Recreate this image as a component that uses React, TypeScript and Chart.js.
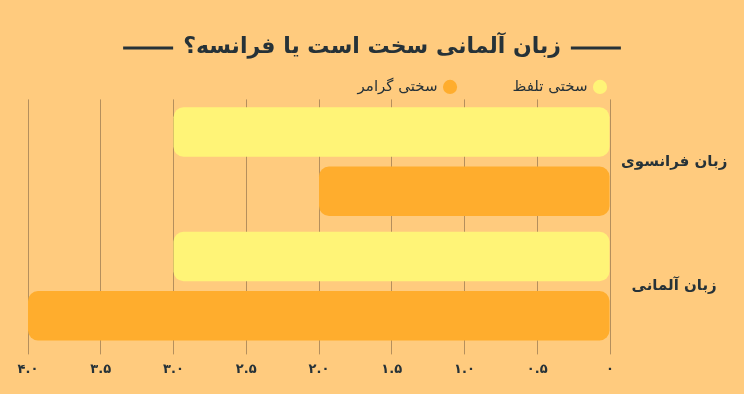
import React, { useEffect, useRef } from "react";
import { Chart, registerables } from "chart.js";

Chart.register(...registerables);

const titleText = "زبان آلمانی سخت است یا فرانسه؟";
const categories = ["زبان فرانسوی", "زبان آلمانی"];
const seriesNames = ["سختی تلفظ", "سختی گرامر"];
const pronunciation = [3.0, 3.0];
const grammar = [2.0, 4.0];
const tickLabels = ["۰", "۰.۵", "۱.۰", "۱.۵", "۲.۰", "۲.۵", "۳.۰", "۳.۵", "۴.۰"];

const BG = "#FFCB7E";
const YELLOW = "#FFF477";
const ORANGE = "#FFAD2D";
const DARK = "#263238";
const FONT = "'DejaVu Sans', sans-serif";

const titleLines = {
  id: "titleLines",
  afterDraw(chart: any) {
    const tb = chart.titleBlock;
    if (!tb) return;
    const ctx = chart.ctx;
    ctx.save();
    ctx.font = `bold 22px ${FONT}`;
    const tw = ctx.measureText(titleText).width;
    const cx = (tb.left + tb.right) / 2;
    const y = tb.top + 34 + 13 + 1;
    const gap = 10;
    const len = 50;
    ctx.strokeStyle = DARK;
    ctx.lineWidth = 3;
    ctx.beginPath();
    ctx.moveTo(cx - tw / 2 - gap - len, y);
    ctx.lineTo(cx - tw / 2 - gap, y);
    ctx.moveTo(cx + tw / 2 + gap, y);
    ctx.lineTo(cx + tw / 2 + gap + len, y);
    ctx.stroke();
    ctx.restore();
  },
};

export default function App() {
  const ref = useRef<HTMLCanvasElement>(null);
  useEffect(() => {
    document.body.style.margin = "0";
    document.body.style.background = BG;
    const chart = new Chart(ref.current!, {
      type: "bar",
      data: {
        labels: categories,
        datasets: [
          {
            label: seriesNames[0],
            data: pronunciation,
            backgroundColor: YELLOW,
            borderRadius: 10,
            borderSkipped: false,
          },
          {
            label: seriesNames[1],
            data: grammar,
            backgroundColor: ORANGE,
            borderRadius: 10,
            borderSkipped: false,
          },
        ],
      },
      options: {
        indexAxis: "y",
        animation: false,
        responsive: false,
        maintainAspectRatio: false,
        layout: { padding: { left: 0, right: 0, top: 0, bottom: 10 } },
        datasets: {
          bar: { categoryPercentage: 0.952, barPercentage: 0.833 },
        },
        plugins: {
          title: {
            display: true,
            text: titleText,
            color: DARK,
            font: { family: FONT, size: 22, weight: "bold" },
            padding: { top: 34, bottom: 14 },
          },
          legend: {
            display: true,
            rtl: true,
            textDirection: "rtl",
            fullSize: false,
            align: "start",
            maxHeight: 25,
            labels: {
              usePointStyle: true,
              pointStyle: "circle",
              boxWidth: 10,
              boxHeight: 10,
              color: DARK,
              font: { family: FONT, size: 15 },
              padding: 5,
              generateLabels: (chart: any) => {
                const items = Chart.defaults.plugins.legend.labels.generateLabels(chart);
                items.forEach((it: any) => {
                  it.lineWidth = 0;
                  if (it.datasetIndex === 0) it.text = it.text + "           ";
                });
                return items;
              },
            },
          },
          tooltip: { enabled: false },
        },
        scales: {
          x: {
            reverse: true,
            min: 0,
            max: 4,
            border: { display: false },
            grid: {
              color: "rgba(90,70,50,0.45)",
              lineWidth: 1,
              drawTicks: true,
              tickLength: 6,
            },
            ticks: {
              stepSize: 0.5,
              color: DARK,
              font: { family: FONT, size: 13, weight: "bold" },
              padding: 7,
              maxRotation: 0,
              callback: (v: any) => tickLabels[Math.round(Number(v) * 2)],
            },
          },
          y: {
            position: "right",
            border: { display: false },
            grid: { display: false },
            ticks: {
              color: DARK,
              crossAlign: "center",
              font: { family: FONT, size: 15, weight: "bold" },
            },
            afterFit: (s: any) => {
              s.width = 134;
            },
          },
          yLeft: {
            type: "category",
            position: "left",
            display: true,
            border: { display: false },
            grid: { display: false },
            ticks: { display: false },
            afterFit: (s: any) => {
              s.width = 28;
            },
          },
        },
      },
      plugins: [titleLines],
    });
    return () => chart.destroy();
  }, []);
  return (
    <div style={{ width: 744, height: 394, background: BG }}>
      <canvas ref={ref} width={744} height={394} style={{ display: "block" }} />
    </div>
  );
}
